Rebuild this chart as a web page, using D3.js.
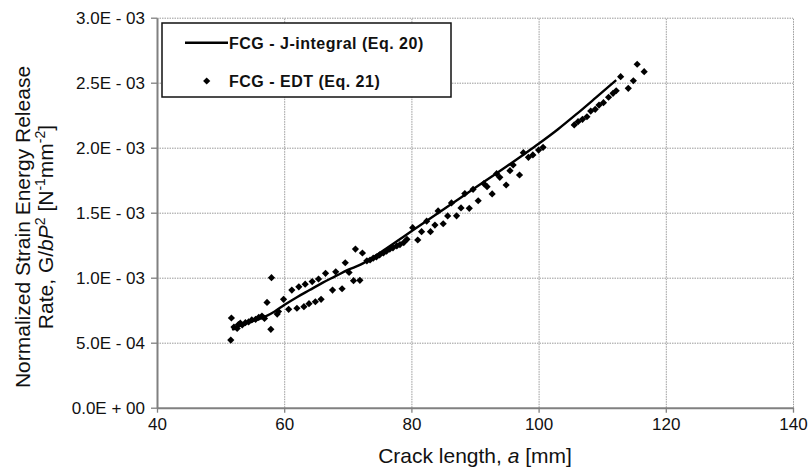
<!DOCTYPE html>
<html>
<head>
<meta charset="utf-8">
<script src="https://cdn.jsdelivr.net/npm/d3@7"></script>
<style>
  body { margin: 0; background: #fff; }
  svg text { font-family: "Liberation Sans", Arial, sans-serif; fill: #111; }
</style>
</head>
<body>
<div class="chart"></div>
<script>
// values are in units of 1E-03 N^-1 mm^-2
const xTicks = [40, 60, 80, 100, 120, 140]
const yTicks = [0, 0.5, 1.0, 1.5, 2.0, 2.5, 3.0]
const yTickLabels = ['0.0E + 00', '5.0E - 04', '1.0E - 03', '1.5E - 03', '2.0E - 03', '2.5E - 03', '3.0E - 03']

const seriesNames = ['FCG - J-integral (Eq. 20)', 'FCG - EDT (Eq. 21)']

// J-integral curve
const jX = [51.8, 53, 55, 57, 58.5, 60, 62, 64, 66, 68, 70, 72, 74, 76, 78, 80, 83, 86, 89, 92, 95, 98, 100, 103, 106, 109, 112.2]
const jY = [0.60, 0.63, 0.665, 0.70, 0.74, 0.79, 0.85, 0.905, 0.96, 1.01, 1.06, 1.10, 1.157, 1.223, 1.29, 1.357, 1.457, 1.557, 1.657, 1.757, 1.857, 1.96, 2.03, 2.14, 2.26, 2.385, 2.52]

// EDT points
const edtX = [51.6, 51.7, 52.1, 52.6, 52.8, 53.1, 53.4, 53.9, 54.4, 54.9, 55.5, 56.0, 56.5, 56.9, 57.3, 57.9, 58.0,
  58.9, 59.1, 59.9, 60.7, 61.2, 62.0, 62.3, 63.1, 63.3, 63.9, 64.4, 64.9, 65.4, 65.8, 66.5, 67.6, 68.1,
  69.1, 69.6, 70.2, 70.9, 71.2, 71.9, 72.3, 73.0, 73.5, 74.0, 74.5, 75.0, 75.6, 76.1, 76.6, 77.1, 77.7, 78.2, 78.8, 79.3,
  80.2, 81.0, 81.6, 82.4, 83.0, 83.7, 84.2, 85.0, 85.7, 86.3, 87.1, 87.8, 88.4, 89.1, 89.7, 90.5, 91.4, 91.9,
  92.7, 93.4, 93.9, 94.9, 95.5, 96.0, 97.0, 97.6, 98.4, 99.1, 100.0, 100.7,
  105.6, 106.2, 106.9, 107.6, 108.2, 108.9, 109.5, 110.2, 111.0, 111.7, 112.2, 112.9, 114.1, 114.9, 115.5, 116.6]
const edtY = [0.52, 0.69, 0.62, 0.61, 0.64, 0.65, 0.636, 0.654, 0.66, 0.675, 0.68, 0.695, 0.705, 0.687, 0.81, 0.603, 1.0,
  0.72, 0.74, 0.834, 0.757, 0.905, 0.765, 0.93, 0.777, 0.95, 0.80, 0.97, 0.815, 0.99, 0.834, 1.034, 0.905, 1.045,
  0.915, 1.115, 1.04, 0.977, 1.22, 0.98, 1.19, 1.13, 1.136, 1.15, 1.16, 1.175, 1.19, 1.205, 1.22, 1.23, 1.244, 1.255, 1.27, 1.295,
  1.385, 1.29, 1.354, 1.435, 1.354, 1.405, 1.514, 1.415, 1.475, 1.575, 1.476, 1.537, 1.647, 1.534, 1.68, 1.592, 1.723, 1.70,
  1.644, 1.80, 1.772, 1.713, 1.823, 1.867, 1.79, 1.962, 1.926, 1.944, 1.982, 2.003,
  2.175, 2.20, 2.218, 2.238, 2.282, 2.295, 2.328, 2.346, 2.388, 2.418, 2.438, 2.546, 2.457, 2.515, 2.642, 2.585]

const margin = {top: 17.7, right: 19, bottom: 67.3, left: 157}
const W = 812, H = 475
const width = W - margin.left - margin.right
const height = H - margin.top - margin.bottom

const xScale = d3.scaleLinear().domain([40, 140]).range([0, width])
const yScale = d3.scaleLinear().domain([0, 3]).range([height, 0])

const svg = d3.select('.chart').append('svg')
    .attr('width', W)
    .attr('height', H)

const g = svg.append('g')
    .attr('transform', `translate(${margin.left},${margin.top})`)

// gridlines
g.append('g')
  .attr('transform', `translate(0,${height})`)
  .call(d3.axisBottom(xScale).tickValues(xTicks.slice(1)).tickSize(-height).tickFormat(''))
  .call(s => s.select('.domain').remove())
  .selectAll('line').attr('stroke', '#9a9a9a').attr('stroke-dasharray', '1.5,1')

g.append('g')
  .call(d3.axisLeft(yScale).tickValues(yTicks.slice(1)).tickSize(-width).tickFormat(''))
  .call(s => s.select('.domain').remove())
  .selectAll('line').attr('stroke', '#9a9a9a').attr('stroke-dasharray', '1.5,1')

// x axis
const xAxis = g.append('g')
  .attr('transform', `translate(0,${height})`)
  .call(d3.axisBottom(xScale).tickValues(xTicks).tickSizeInner(5).tickSizeOuter(0).tickPadding(5))
xAxis.select('.domain').attr('stroke', '#808080').attr('stroke-width', 2)
xAxis.selectAll('line').attr('stroke', '#808080').attr('stroke-width', 1.3)
xAxis.selectAll('text')
  .style('font-size', '17px')
  .attr('fill', '#111')

// y axis
const yAxis = g.append('g')
  .call(d3.axisLeft(yScale).tickValues(yTicks).tickSizeInner(6).tickSizeOuter(0).tickPadding(6)
    .tickFormat((d, i) => yTickLabels[i]))
yAxis.select('.domain').attr('stroke', '#808080').attr('stroke-width', 2)
yAxis.selectAll('line').attr('stroke', '#808080').attr('stroke-width', 1.3)
yAxis.selectAll('text')
  .style('font-size', '17px')
  .attr('fill', '#111')

// J-integral line
const line = d3.line()
  .x((d, i) => xScale(jX[i]))
  .y((d, i) => yScale(jY[i]))
  .curve(d3.curveMonotoneX)

g.append('path')
  .datum(jX)
  .attr('d', line)
  .attr('fill', 'none')
  .attr('stroke', '#000')
  .attr('stroke-width', 2.4)

// EDT diamonds
const diamond = d3.symbol(d3.symbolSquare, 26)
g.append('g')
  .selectAll('path')
  .data(edtX)
  .join('path')
    .attr('d', diamond)
    .attr('transform', (d, i) => `translate(${xScale(d)},${yScale(edtY[i])}) rotate(45)`)
    .attr('fill', '#000')

// legend
const legend = svg.append('g').attr('transform', 'translate(162,23)')
legend.append('rect')
  .attr('width', 289)
  .attr('height', 74)
  .attr('fill', '#fff')
  .attr('stroke', '#111')
  .attr('stroke-width', 1.5)
legend.append('line')
  .attr('x1', 23).attr('x2', 66)
  .attr('y1', 19.7).attr('y2', 19.7)
  .attr('stroke', '#000').attr('stroke-width', 2.4)
legend.append('path')
  .attr('d', diamond)
  .attr('transform', 'translate(44.7,58) rotate(45)')
  .attr('fill', '#000')
legend.selectAll('text.lbl')
  .data(seriesNames)
  .join('text')
    .attr('class', 'lbl')
    .attr('x', 67)
    .attr('y', (d, i) => i === 0 ? 25.5 : 64)
    .style('font-size', '16px')
    .style('font-weight', 'bold')
    .style('letter-spacing', '0.5px')
    .text(d => d)

// axis titles
svg.append('text')
  .attr('x', margin.left + width / 2)
  .attr('y', 463)
  .attr('text-anchor', 'middle')
  .style('font-size', '21px')
  .html('Crack length, <tspan font-style="italic">a</tspan> [mm]')

const yTitle = svg.append('text')
  .attr('transform', 'translate(0,227) rotate(-90)')
  .attr('text-anchor', 'middle')
  .style('font-size', '21px')
yTitle.append('tspan')
  .attr('x', 0).attr('y', 29.5)
  .text('Normalized Strain Energy Release')
yTitle.append('tspan')
  .attr('x', 0).attr('y', 52.5)
  .html('Rate, G/<tspan font-style="italic">bP</tspan><tspan dy="-8" font-size="14px">2</tspan><tspan dy="8"> [N</tspan><tspan dy="-8" font-size="14px">-1</tspan><tspan dy="8">mm</tspan><tspan dy="-8" font-size="14px">-2</tspan><tspan dy="8">]</tspan>')
</script>
</body>
</html>
